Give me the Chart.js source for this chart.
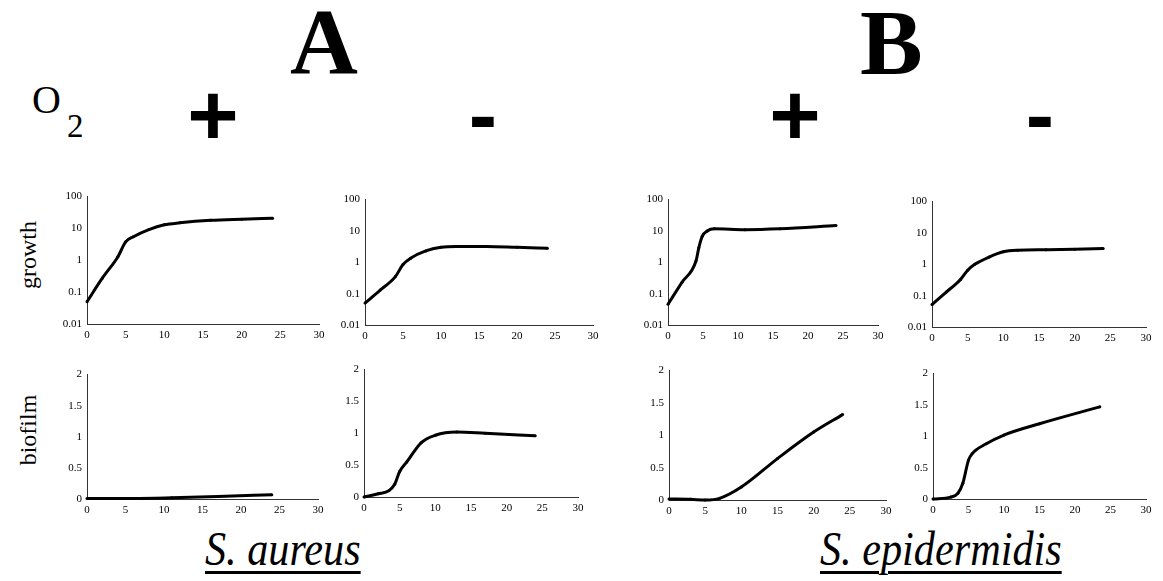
<!DOCTYPE html>
<html>
<head>
<meta charset="utf-8">
<script src="https://cdn.jsdelivr.net/npm/chart.js@4"></script>
<style>
  body { margin: 0; background: #fff; width: 1163px; height: 581px; position: relative; overflow: hidden;
         font-family: 'Liberation Serif', 'Times New Roman', serif; color: #000; }
  canvas { position: absolute; }
  .lbl { position: absolute; white-space: nowrap; line-height: 1; }
  .sign { position: absolute; width: 100px; text-align: center; line-height: 1;
          font-family: 'Liberation Sans', Arial, sans-serif; font-weight: bold; }
  .species { position: absolute; white-space: nowrap; line-height: 1; font-size: 48px; font-style: italic;
             transform: scaleX(0.88); transform-origin: left top;
             text-decoration: underline; text-decoration-thickness: 3px; text-underline-offset: 6px; }
  .ylab { position: absolute; width: 100px; text-align: center; line-height: 1; font-size: 24px;
          transform: rotate(-90deg); }
</style>
</head>
<body>
<div class="lbl" style="left:290px; top:-6px; font-size:94px; font-weight:bold;">A</div>
<div class="lbl" style="left:860px; top:-5px; font-size:94px; font-weight:bold;">B</div>
<div class="lbl" style="left:32px; top:80px; font-size:40px;">O<span style="font-size:33px; position:relative; top:24px; margin-left:6px;">2</span></div>
<div class="sign" style="left:163px; top:71px; font-size:88px;">+</div>
<div class="sign" style="left:433px; top:72px; font-size:85px;">-</div>
<div class="sign" style="left:745px; top:71px; font-size:88px;">+</div>
<div class="sign" style="left:990px; top:72px; font-size:85px;">-</div>
<div class="ylab" style="left:-22px; top:243px;">growth</div>
<div class="ylab" style="left:-22px; top:418px;">biofilm</div>
<div class="species" style="left:205px; top:525px;">S. aureus</div>
<div class="species" style="left:820px; top:525px;">S. epidermidis</div>

<canvas id="c1"></canvas>
<canvas id="c2"></canvas>
<canvas id="c3"></canvas>
<canvas id="c4"></canvas>
<canvas id="c5"></canvas>
<canvas id="c6"></canvas>
<canvas id="c7"></canvas>
<canvas id="c8"></canvas>

<script>
// tick labels
const xTicks = [0, 5, 10, 15, 20, 25, 30];
const growthTicks = [0.01, 0.1, 1, 10, 100];
const biofilmTicks = [0, 0.5, 1, 1.5, 2];

// S. aureus, +O2
const tSaAerGrowth = [0, 2, 4, 5, 6, 8, 10, 12, 16, 20, 24];
const ySaAerGrowth = [0.05, 0.28, 1.3, 3.8, 5.5, 9.2, 13, 15, 18, 19.6, 21];
const tSaAerBiofilm = [0, 4, 6, 11, 17, 24];
const ySaAerBiofilm = [0.01, 0.01, 0.01, 0.02, 0.04, 0.07];

// S. aureus, -O2
const tSaAnaGrowth = [0, 2, 4, 5, 6, 8, 10, 12, 16, 20, 24];
const ySaAnaGrowth = [0.05, 0.13, 0.35, 0.85, 1.35, 2.3, 3.0, 3.2, 3.2, 3.0, 2.8];
const tSaAnaBiofilm = [0, 2, 3.5, 4.3, 5, 6, 8, 10, 13, 17, 24];
const ySaAnaBiofilm = [0, 0.05, 0.1, 0.2, 0.4, 0.55, 0.85, 0.97, 1.02, 1.0, 0.96];

// S. epidermidis, +O2
const tSeAerGrowth = [0, 2, 4, 4.4, 4.9, 5.6, 6.6, 11, 16, 24];
const ySeAerGrowth = [0.046, 0.23, 1.1, 2.9, 6.8, 10, 11.7, 11, 11.7, 14.9];
const tSeAerBiofilm = [0, 3, 5, 7, 10, 15, 20, 24];
const ySeAerBiofilm = [0.015, 0.01, 0, 0.026, 0.2, 0.64, 1.05, 1.32];

// S. epidermidis, -O2
const tSeAnaGrowth = [0, 2, 4, 5, 6, 8, 10, 12, 16, 20, 24];
const ySeAnaGrowth = [0.052, 0.13, 0.33, 0.65, 1.0, 1.7, 2.5, 2.8, 2.9, 3.0, 3.2];
const tSeAnaBiofilm = [0, 2.5, 3.5, 4.2, 5, 5.5, 7.5, 10, 15, 23.5];
const ySeAnaBiofilm = [0, 0.03, 0.09, 0.25, 0.62, 0.72, 0.88, 1.02, 1.2, 1.47];

Chart.defaults.font.family = "'Liberation Serif', 'Times New Roman', serif";
Chart.defaults.font.size = 11;
Chart.defaults.color = "#000";

const padTop = 10, padRight = 14, yAxisW = 40, xAxisH = 22;

// plot area boxes: left, right, top, bottom of the axes
const panels = [
    { id: "c1", L: 87,  R: 319,  T: 195, B: 324, t: tSaAerGrowth,  y: ySaAerGrowth,  log: true },
    { id: "c2", L: 365, R: 593,  T: 198, B: 325, t: tSaAnaGrowth,  y: ySaAnaGrowth,  log: true },
    { id: "c3", L: 668, R: 878,  T: 198, B: 325, t: tSeAerGrowth,  y: ySeAerGrowth,  log: true },
    { id: "c4", L: 932, R: 1146, T: 200, B: 327, t: tSeAnaGrowth,  y: ySeAnaGrowth,  log: true },
    { id: "c5", L: 87,  R: 318,  T: 373, B: 499, t: tSaAerBiofilm, y: ySaAerBiofilm, log: false },
    { id: "c6", L: 364, R: 578,  T: 368, B: 497, t: tSaAnaBiofilm, y: ySaAnaBiofilm, log: false },
    { id: "c7", L: 669, R: 886,  T: 369, B: 500, t: tSeAerBiofilm, y: ySeAerBiofilm, log: false },
    { id: "c8", L: 933, R: 1146, T: 372, B: 499, t: tSeAnaBiofilm, y: ySeAnaBiofilm, log: false },
];

const makePanel = (p) => {
    const canvas = document.getElementById(p.id);
    const w = p.R - p.L + yAxisW + padRight;
    const h = p.B - p.T + padTop + xAxisH;
    canvas.width = w;
    canvas.height = h;
    canvas.style.left = (p.L - yAxisW) + "px";
    canvas.style.top = (p.T - padTop) + "px";
    canvas.style.width = w + "px";
    canvas.style.height = h + "px";

    const yTicks = p.log ? growthTicks : biofilmTicks;
    const yScale = {
        type: p.log ? "logarithmic" : "linear",
        min: p.log ? 0.01 : 0,
        max: p.log ? 100 : 2,
        afterBuildTicks: (s) => { s.ticks = yTicks.map((v) => ({ value: v })); },
        afterFit: (s) => { s.width = yAxisW; },
        grid: { display: false, drawTicks: false },
        border: { display: true, color: "#333", width: 1 },
        ticks: { padding: 5, autoSkip: false, callback: (v) => String(v) },
    };

    return new Chart(canvas.getContext("2d"), {
        type: "line",
        data: {
            datasets: [
                {
                    data: p.t.map((v, i) => ({ x: v, y: p.y[i] })),
                    borderColor: "#000",
                    backgroundColor: "#000",
                    borderWidth: 3,
                    pointRadius: 1.5,
                    pointBorderWidth: 0,
                    cubicInterpolationMode: "monotone",
                    fill: false,
                    clip: false,
                },
            ],
        },
        options: {
            responsive: false,
            animation: false,
            devicePixelRatio: 1,
            layout: { padding: { top: padTop, right: padRight, left: 0, bottom: 0 } },
            plugins: { legend: { display: false }, tooltip: { enabled: false } },
            scales: {
                x: {
                    type: "linear",
                    min: 0,
                    max: 30,
                    afterBuildTicks: (s) => { s.ticks = xTicks.map((v) => ({ value: v })); },
                    afterFit: (s) => { s.height = xAxisH; },
                    grid: { display: false, drawTicks: false },
                    border: { display: true, color: "#333", width: 1 },
                    ticks: { padding: 5, maxRotation: 0, autoSkip: false },
                },
                y: yScale,
            },
        },
    });
};

panels.forEach(makePanel);
</script>
</body>
</html>
